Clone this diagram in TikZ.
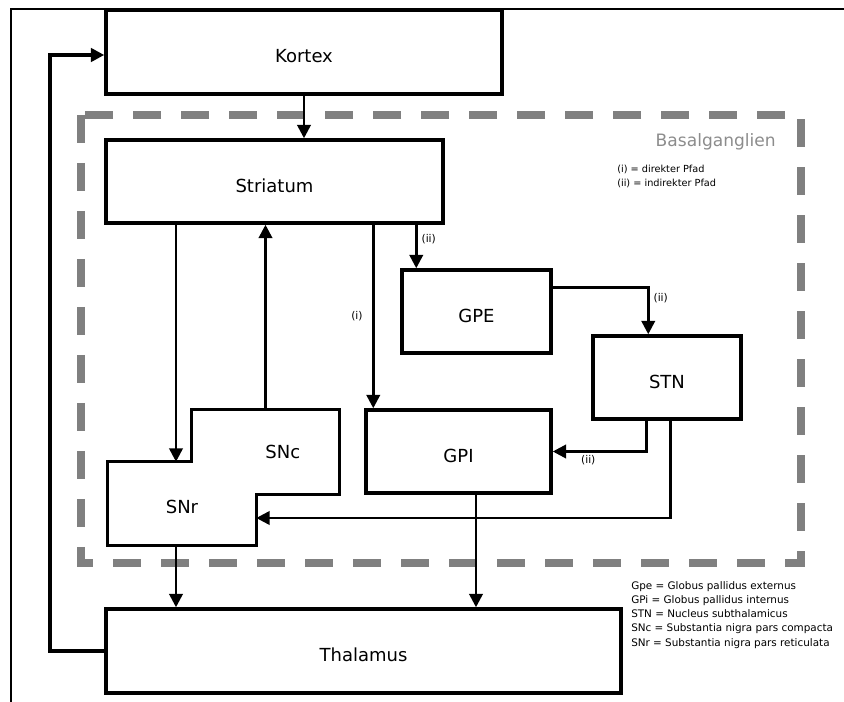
\documentclass[tikz,border=0pt]{standalone}
\usepackage{fontspec}
\setmainfont{DejaVu Sans}
\usetikzlibrary{positioning, arrows.meta, calc}

\begin{document}
\begin{tikzpicture}[x=0.75pt, y=-0.75pt,
  box/.style={draw, line width=2.6pt, minimum height=62.25pt, inner sep=0pt,
              align=center, text height=16pt, text depth=0pt,
              font=\fontsize{13.5}{16}\selectfont},
  part/.style={minimum height=62.25pt, inner sep=0pt, text height=15pt, text depth=0pt,
               font=\fontsize{13.5}{16}\selectfont},
  arr/.style={-{Triangle[length=10pt, width=10pt]}, line width=2pt},
  lbl/.style={font=\fontsize{8}{9}\selectfont, inner sep=1pt},
  legend/.style={align=left, inner sep=0pt},
  region/.style={draw=black!50, line width=6pt, dash pattern=on 21pt off 15pt},
]

\useasboundingbox (0,0) rectangle (844,702);

% === Page frame ===
\draw[line width=1.5pt] (11,702) -- (11,9) -- (844,9);

% === Basal ganglia region ===
\draw[region] (81,115) rectangle (801,563);
\node[inner sep=0pt, anchor=east, text=black!45, font=\fontsize{12.8}{15}\selectfont]
  (basal) at (776,142) {Basalganglien};

% === Nodes ===
\node[box, minimum width=297pt, minimum height=63pt] (kortex) at (304,52) {Kortex};
\node[box, minimum width=252.75pt] (striatum) at (274.5,181.5) {Striatum};
\node[box, minimum width=111.75pt] (gpe) at (476.5,311.5) {GPE};
\node[box, minimum width=111pt] (stn) at (667,377.5) {STN};
\node[box, minimum width=138.75pt] (gpi) at (458.5,451.5) {GPI};
\node[box, minimum width=386.25pt, minimum height=63pt] (thalamus) at (363.5,651) {Thalamus};

% SNr and SNc share one outline
\node[part, minimum width=111pt] (snr) at (182,503.5) {SNr};
\node[part, minimum width=110.25pt, minimum height=63pt,
      label={[xshift=13pt, font=\fontsize{13.5}{16}\selectfont]center:SNc}] (snc) at (265.5,452) {};
\draw[line width=2.6pt] (snr.north west) -- (snr.north west -| snc.west) -- (snc.north west)
  -- (snc.north east) -- (snc.south east) -- (snc.south east -| snr.east)
  -- (snr.south east) -- (snr.south west) -- cycle;

% === Legends ===
\node[legend, anchor=north west, font=\fontsize{7.3}{10.5}\selectfont] (legpfad) at (617,165)
  {(i) = direkter Pfad\\(ii) = indirekter Pfad};
\node[legend, anchor=north west, font=\fontsize{7.8}{10.7}\selectfont] (legabbr) at (631,581)
  {Gpe = Globus pallidus externus\\
   GPi = Globus pallidus internus\\
   STN = Nucleus subthalamicus\\
   SNc = Substantia nigra pars compacta\\
   SNr = Substantia nigra pars reticulata};

% === Connector points ===
\coordinate (snrin) at ($(snr.north)+(-6,0)$);
\coordinate (gpiin) at ($(gpi.north west)+(9,0)$);
\coordinate (gpein) at ($(gpe.north west)+(16,0)$);
\coordinate (gpeout) at ($(gpe.north east)+(0,19)$);
\coordinate (stnin) at ($(stn.north west)+(57,0)$);
\coordinate (stnout1) at ($(stn.south west)+(55,0)$);
\coordinate (stnout2) at ($(stn.south west)+(79,0)$);
\coordinate (snrin2) at ($(snr.east)+(0,14.5)$);
\coordinate (gpiout) at ($(gpi.south)+(17.5,0)$);
\coordinate (kortexin) at ($(kortex.west)+(0,3)$);
\coordinate (loop) at (50,55);

% === Arrows ===
\draw[arr] (kortex.south) -- (kortex.south |- striatum.north);
\draw[arr] (striatum.south -| snrin) -- (snrin);
\draw[arr] (snc.north) -- (snc.north |- striatum.south);
\draw[arr] (striatum.south -| gpiin) -- node[lbl, left=6pt] {(i)} (gpiin);
\draw[arr] (striatum.south -| gpein) -- node[lbl, right=2pt, pos=0.32] {(ii)} (gpein);
\draw[arr] (gpeout) -| node[lbl, right=2pt, pos=0.62] {(ii)} (stnin);
\draw[arr] (stnout1) |- node[lbl, below=1pt, pos=0.81] {(ii)} (gpi.east);
\draw[arr] (stnout2) |- (snrin2);
\draw[arr] (snr.south -| snrin) -- (thalamus.north -| snrin);
\draw[arr] (gpiout) -- (gpiout |- thalamus.north);

% Thalamus back to Kortex
\draw[arr, line width=2.5pt] (thalamus.west) -| (loop) -- (kortexin);

\end{tikzpicture}
\end{document}
